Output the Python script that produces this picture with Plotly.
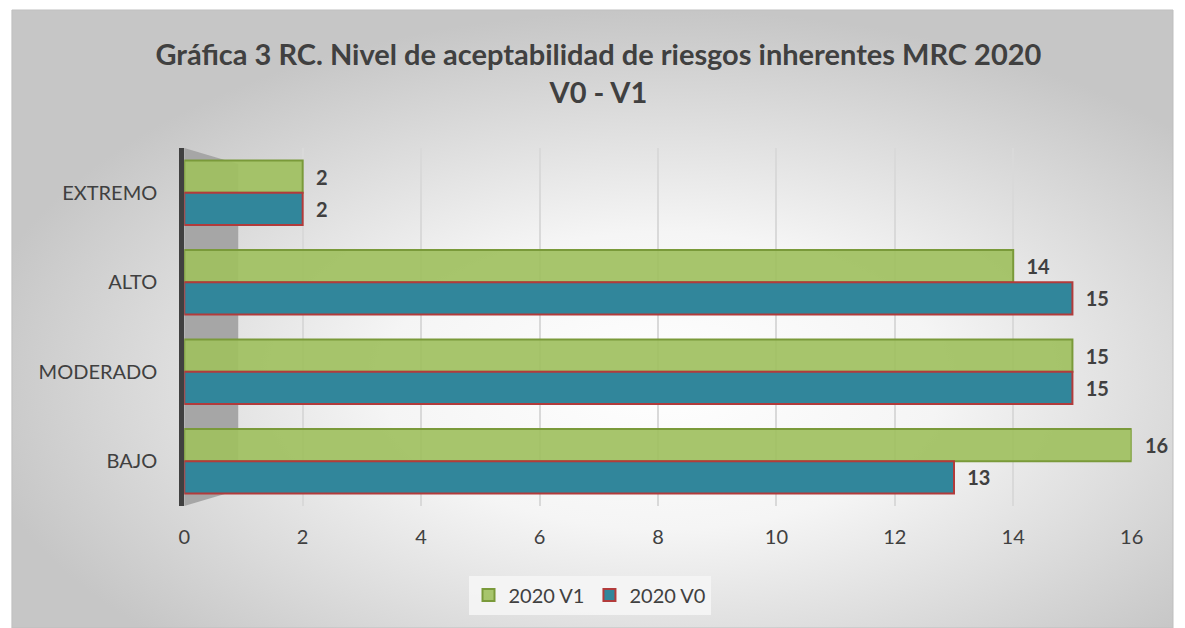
import plotly.graph_objects as go
import urllib.parse

categories = ["EXTREMO", "ALTO", "MODERADO", "BAJO"]
v1_values = [2, 14, 15, 16]
v0_values = [2, 15, 15, 13]
series_names = ["2020 V1", "2020 V0"]
x_ticks = [0, 2, 4, 6, 8, 10, 12, 14, 16]
title_text = "Gráfica 3 RC. Nivel de aceptabilidad de riesgos inherentes MRC 2020<br>V0 - V1"

W, H = 1185, 628
FONT = "Lato, 'Open Sans', sans-serif"
TXT = "#404040"

svg = (
    "<svg xmlns='http://www.w3.org/2000/svg' width='1185' height='618' viewBox='0 0 1185 618' preserveAspectRatio='none'>"
    "<defs><radialGradient id='g' cx='56%' cy='60%' r='60%'>"
    "<stop offset='0' stop-color='#ffffff'/><stop offset='0.4' stop-color='#f5f5f5'/>"
    "<stop offset='1' stop-color='#c6c6c6'/></radialGradient></defs>"
    "<rect width='1185' height='618' fill='url(#g)'/></svg>"
)
svg_uri = "data:image/svg+xml;charset=utf-8," + urllib.parse.quote(svg)

fig = go.Figure()
fig.add_trace(go.Bar(
    y=categories, x=v1_values, name=series_names[0], orientation="h",
    marker=dict(color="rgba(160,192,95,0.92)", line=dict(color="#7a9a3a", width=2)),
    texttemplate="\u00a0\u00a0<b>%{x}</b>", textposition="outside",
    textfont=dict(family=FONT, size=20, color=TXT), cliponaxis=False,
))
fig.add_trace(go.Bar(
    y=categories, x=v0_values, name=series_names[1], orientation="h",
    marker=dict(color="#31869b", line=dict(color="#b23b3b", width=2)),
    texttemplate="\u00a0\u00a0<b>%{x}</b>", textposition="outside",
    textfont=dict(family=FONT, size=20, color=TXT), cliponaxis=False,
))

fig.update_layout(
    width=W, height=H,
    margin=dict(l=0, r=0, t=0, b=0),
    paper_bgcolor="white",
    plot_bgcolor="rgba(0,0,0,0)",
    barmode="group", bargap=0.28, bargroupgap=0.0,
    font=dict(family=FONT, color=TXT, size=20),
    title=dict(text="<b>" + title_text + "</b>", x=0.505, xanchor="center",
               y=0.896, yanchor="middle",
               font=dict(family=FONT, size=29, color=TXT)),
    xaxis=dict(domain=[181 / W, 1143 / W], range=[0, 16], tickvals=x_ticks,
               showgrid=True, gridcolor="#d9d9d9", gridwidth=1.5, zeroline=False,
               showline=False, tickfont=dict(size=20, color=TXT), ticks="",
               ticklabelstandoff=17, anchor="y"),
    yaxis=dict(domain=[(H - 506) / H, (H - 148) / H], categoryorder="array",
               categoryarray=categories, autorange="reversed",
               showline=True, linecolor="#404040", linewidth=5,
               ticks="", ticklabelstandoff=18,
               tickfont=dict(size=20, color=TXT), showgrid=False),
    legend=dict(orientation="h", x=0.5, xanchor="center", y=(H - 595) / H,
                yanchor="middle", bgcolor="rgba(245,245,245,0.9)",
                font=dict(size=20, color=TXT), traceorder="normal",
                itemsizing="constant"),
    images=[dict(source=svg_uri, xref="paper", yref="paper", x=6 / W, y=(H - 10) / H,
                 sizex=(W - 6) / W, sizey=(H - 10) / H, sizing="stretch",
                 layer="below", xanchor="left", yanchor="top")],
    shapes=[
        dict(type="path", xref="x domain", yref="y domain",
             path="M 0,1 L 0.057,0.955 L 0.057,0.045 L 0,0 Z",
             fillcolor="#a6a6a6", line=dict(width=0), layer="below"),
        dict(type="rect", xref="paper", yref="paper", x0=6 / W, x1=1, y0=0, y1=(H - 10) / H,
             line=dict(color="#bfbfbf", width=1), fillcolor="rgba(0,0,0,0)", layer="below"),
    ],
)

fig.write_html("out.html")
